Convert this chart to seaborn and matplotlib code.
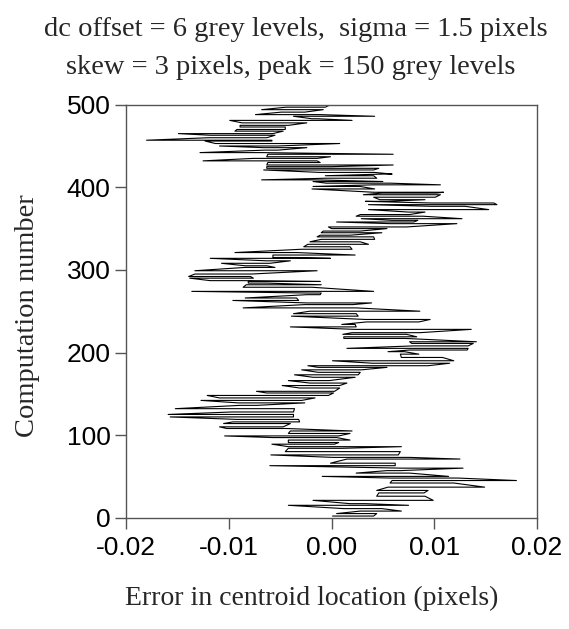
import matplotlib
matplotlib.use("Agg")
import matplotlib.pyplot as plt
import seaborn as sns
import pandas as pd

# Each row: a near-horizontal stroke at a computation number, from err_lo to err_hi (pixels)
computation = [
    2, 5, 8, 11, 15, 17, 21, 26, 30, 33, 37, 42, 45, 48, 50, 54, 57, 60, 63, 66, 71, 73, 76, 80,
    84, 86, 89, 91, 94, 97, 99, 102, 105, 108, 110, 114, 116, 119, 122, 125, 128, 132, 136, 139,
    142, 145, 148, 151, 153, 157, 160, 163, 166,
    170, 173, 176, 179, 182, 184, 187, 190, 194, 198, 201, 203, 205, 208, 211, 213, 217, 219, 222,
    224, 228, 231, 234, 237, 240, 244, 247, 250,
    254, 258, 260, 263, 266, 270, 272, 274, 279, 282, 284, 286, 287, 290, 292, 295, 299, 303, 305,
    308, 311, 314, 315, 318, 321, 325, 328, 331, 334,
    337, 340, 342, 345, 347, 350, 352, 356, 358, 360, 362, 365, 367, 370, 373, 377, 379, 381, 383,
    385, 388, 391, 393, 394, 398, 401, 403, 405, 407, 409, 411, 414, 416, 418,
    421, 423, 425, 427, 430, 432, 435, 437, 440, 442, 445, 448, 450, 453, 456, 457, 460, 463, 465,
    468, 470, 473, 475, 478, 481, 483, 486, 488, 491, 494, 497, 500,
]

err_lo = [
    0.0001, 0.0005, 0.0028, 0.0012, -0.0042, 0.0018, -0.0018, 0.0044, 0.0046, 0.0044, 0.0055, 0.0057,
    0.0059, 0.0057, -0.0009, 0.0024, 0.0054, 0.0068, -0.0060, -0.0001, 0.0015, 0.0002, -0.0059, -0.0045,
    -0.0042, -0.0042, -0.0058, -0.0042, -0.0042, -0.0057, -0.0104, -0.0042, -0.0040, -0.0102, -0.0109,
    -0.0105, -0.0096, -0.0092, -0.0157, -0.0159, -0.0097, -0.0152, -0.0089, -0.0091, -0.0127, -0.0109,
    -0.0121, -0.0063, -0.0073, -0.0031, -0.0048, -0.0021, -0.0042,
    -0.0018, -0.0036, -0.0013, -0.0029, -0.0013, -0.0023, 0.0040, 0.0001, 0.0068, 0.0067, 0.0055,
    0.0076, 0.0015, 0.0080, 0.0078, 0.0076, 0.0012, 0.0012, 0.0011, 0.0020, 0.0023, -0.0040, 0.0010,
    0.0034, 0.0033, -0.0039, -0.0037, -0.0021,
    -0.0086, -0.0026, -0.0024, -0.0096, -0.0084, -0.0024, -0.0021, -0.0136, -0.0086, -0.0083, -0.0081,
    -0.0081, -0.0118, -0.0138, -0.0139, -0.0133, -0.0133, -0.0084, -0.0084, -0.0107, -0.0063, -0.0118,
    -0.0057, -0.0057, -0.0094, -0.0029, -0.0027, -0.0023, -0.0021,
    -0.0010, -0.0014, -0.0011, -0.0010, -0.0008, 0.0000, -0.0003, 0.0057, 0.0005, 0.0059, 0.0029,
    0.0024, 0.0028, 0.0075, 0.0036, 0.0097, 0.0036, 0.0097, 0.0033, 0.0047, 0.0041, 0.0031, 0.0049,
    0.0041, -0.0019, -0.0018, 0.0041, -0.0005, -0.0018, -0.0068, -0.0005, -0.0006, 0.0050, -0.0011,
    -0.0066, -0.0063, -0.0063, -0.0063, -0.0062, -0.0125, -0.0076, -0.0063, -0.0062, -0.0128, -0.0065,
    -0.0066, -0.0109, -0.0113, -0.0123, -0.0180, -0.0120, -0.0118, -0.0149, -0.0094, -0.0092, -0.0089,
    -0.0089, -0.0087, -0.0099, -0.0019, -0.0037, -0.0074, -0.0049, -0.0068, -0.0044, -0.0042,
]

err_hi = [
    0.0041, 0.0044, 0.0068, 0.0049, 0.0075, 0.0033, 0.0099, 0.0091, 0.0090, 0.0094, 0.0149, 0.0119,
    0.0180, 0.0123, 0.0114, 0.0076, 0.0067, 0.0128, 0.0062, 0.0062, 0.0125, 0.0076, 0.0065, 0.0067,
    0.0010, 0.0068, 0.0003, 0.0007, 0.0018, 0.0005, 0.0007, 0.0018, 0.0020, -0.0044, -0.0047,
    -0.0040, -0.0031, -0.0032, -0.0037, -0.0037, -0.0037, -0.0036, -0.0073, -0.0026, -0.0029, -0.0016,
    -0.0003, 0.0002, 0.0003, 0.0008, 0.0008, 0.0015, -0.0002,
    0.0023, 0.0026, 0.0028, 0.0029, 0.0054, 0.0094, 0.0115, 0.0119, 0.0108, 0.0085, 0.0071,
    0.0132, 0.0133, 0.0133, 0.0138, 0.0141, 0.0072, 0.0083, 0.0073, 0.0086, 0.0136, 0.0024, 0.0023,
    0.0085, 0.0096, 0.0026, 0.0024, 0.0086,
    0.0024, 0.0021, 0.0039, -0.0032, -0.0034, -0.0011, -0.0010, 0.0041, -0.0019, -0.0010, -0.0063,
    -0.0011, -0.0086, -0.0076, -0.0079, -0.0078, -0.0014, -0.0055, -0.0063, -0.0060, -0.0040, -0.0001,
    -0.0034, 0.0023, -0.0034, 0.0020, 0.0018, 0.0036, 0.0028,
    0.0042, 0.0041, 0.0018, 0.0049, 0.0028, 0.0054, 0.0073, 0.0122, 0.0080, 0.0084, 0.0127,
    0.0089, 0.0076, 0.0091, 0.0153, 0.0130, 0.0161, 0.0158, 0.0054, 0.0091, 0.0101, 0.0106, 0.0102,
    0.0109, 0.0042, 0.0028, 0.0106, 0.0057, 0.0050, -0.0016, 0.0044, 0.0041, 0.0059, 0.0042,
    0.0041, 0.0046, 0.0000, 0.0060, -0.0011, -0.0014, -0.0014, -0.0001, 0.0060, -0.0068, -0.0052,
    -0.0024, -0.0052, 0.0008, -0.0058, -0.0058, -0.0063, -0.0055, -0.0057, -0.0047, -0.0045, -0.0045,
    -0.0042, -0.0024, 0.0020, -0.0013, 0.0042, -0.0011, -0.0026, -0.0008, -0.0006, -0.0001,
]

x_ticks = [-0.02, -0.01, 0.00, 0.01, 0.02]
x_tick_labels = ["-0.02", "-0.01", "0.00", "0.01", "0.02"]
y_ticks = [0, 100, 200, 300, 400, 500]

title_lines = ["dc offset = 6 grey levels,  sigma = 1.5 pixels",
               "skew = 3 pixels, peak = 150 grey levels"]

# Build a single zig-zag polyline through the row end points
xs, ys = [], []
for i, (c, lo, hi) in enumerate(zip(computation, err_lo, err_hi)):
    pair = (lo, hi) if i % 2 == 0 else (hi, lo)
    for v in pair:
        xs.append(v)
        ys.append(c)
df = pd.DataFrame({"err": xs, "comp": ys})

sns.set_theme(style="white")
plt.rcParams["axes.unicode_minus"] = False

fig = plt.figure(figsize=(5.69, 6.29), dpi=100)
ax = fig.add_axes([126 / 569, 1 - 517.7 / 629, (537 - 126) / 569, (517.7 - 104.7) / 629])

sns.lineplot(data=df, x="err", y="comp", sort=False, estimator=None,
             color="black", linewidth=0.8, ax=ax)

ax.set_xlim(-0.02, 0.02)
ax.set_ylim(0, 500)
ax.set_xticks(x_ticks)
ax.set_xticklabels(x_tick_labels)
ax.set_yticks(y_ticks)

for s in ax.spines.values():
    s.set_color("#555555")
    s.set_linewidth(1.0)
    s.set_visible(True)

ax.tick_params(axis="both", which="major", direction="out", length=8, width=1.0,
               color="#555555", labelsize=19, labelcolor="black", pad=3,
               bottom=True, left=True, top=False, right=False)
ax.tick_params(axis="x", pad=5)
for lab in ax.get_xticklabels() + ax.get_yticklabels():
    lab.set_fontfamily("Liberation Sans")

ax.set_xlabel("")
ax.set_ylabel("")

serif = "Liberation Serif"
fig.text(296 / 569, 1 - 30 / 629, title_lines[0], ha="center", va="center",
         fontsize=20.5, family=serif)
fig.text(291 / 569, 1 - 68 / 629, title_lines[1], ha="center", va="center",
         fontsize=20.5, family=serif)
fig.text(312 / 569, 1 - 598 / 629, "Error in centroid location (pixels)", ha="center",
         va="center", fontsize=20, family=serif)
fig.text(28 / 569, 1 - 316 / 629, "Computation number", ha="center", va="center",
         rotation=90, fontsize=20.5, family=serif)

fig.savefig("out.png", dpi=100, facecolor="white")
